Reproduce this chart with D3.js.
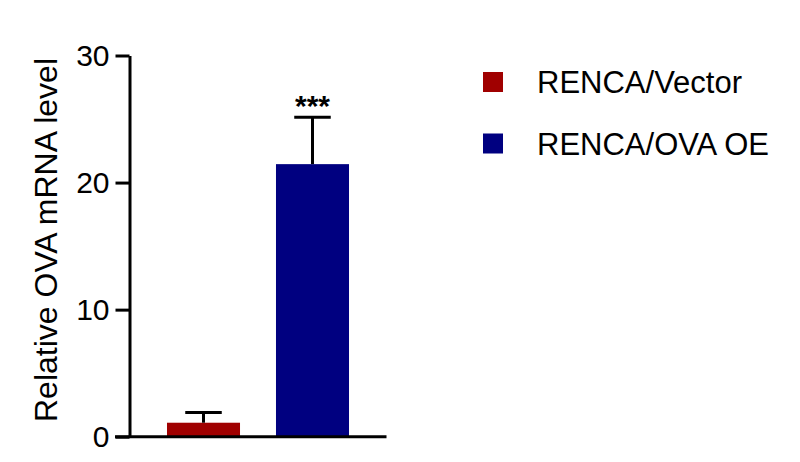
<!DOCTYPE html>
<html>
<head>
<meta charset="utf-8">
<script src="https://cdn.jsdelivr.net/npm/d3@7"></script>
<style>
  body { margin: 0; background: #fff; }
  svg { display: block; }
  text { font-family: "Liberation Sans", Arial, sans-serif; }
</style>
</head>
<body>
<svg id="chart" width="800" height="462"></svg>
<script>
// groups and values
const groups = ["RENCA/Vector", "RENCA/OVA OE"];
const means = [1.1, 21.45];
const errors = [0.8, 3.7];
const colors = ["#a00000", "#000080"];
const yTicks = [0, 10, 20, 30];
const marks = ["", "***"];

const svg = d3.select("#chart");

const y = d3.scaleLinear()
  .domain([0, 30])
  .range([436.7, 55.5]);

const x = d3.scaleBand()
  .domain(groups)
  .range([129.5, 386.5])
  .paddingInner(0.33)
  .paddingOuter(0.344);

// y axis
const yAxis = svg.append("g")
  .attr("transform", "translate(129.5,0)")
  .call(d3.axisLeft(y).tickValues(yTicks).tickSize(14).tickSizeOuter(0).tickPadding(6));
yAxis.select(".domain").attr("stroke", "#000").attr("stroke-width", 3);
yAxis.selectAll(".tick line").attr("stroke", "#000").attr("stroke-width", 3);
yAxis.selectAll(".tick text")
  .attr("font-size", 30)
  .attr("font-family", "Liberation Sans, Arial, sans-serif")
  .attr("fill", "#000");

// y axis title
svg.append("text")
  .attr("transform", "translate(57,240) rotate(-90)")
  .attr("text-anchor", "middle")
  .attr("font-size", 32)
  .attr("fill", "#000")
  .text("Relative OVA mRNA level");

// bars
svg.append("g")
  .selectAll("rect")
  .data(groups)
  .enter()
  .append("rect")
  .attr("x", d => x(d))
  .attr("width", x.bandwidth())
  .attr("y", (d, i) => y(means[i]))
  .attr("height", (d, i) => y(0) - y(means[i]))
  .attr("fill", (d, i) => colors[i]);

// error bars (upper only)
const err = svg.append("g").attr("stroke", "#000").attr("stroke-width", 3);
groups.forEach((g, i) => {
  const cx = x(g) + x.bandwidth() / 2;
  err.append("line")
    .attr("x1", cx).attr("x2", cx)
    .attr("y1", y(means[i])).attr("y2", y(means[i] + errors[i]));
  err.append("line")
    .attr("x1", cx - x.bandwidth() / 4).attr("x2", cx + x.bandwidth() / 4)
    .attr("y1", y(means[i] + errors[i])).attr("y2", y(means[i] + errors[i]));
});

// significance
svg.append("g")
  .selectAll("text")
  .data(groups)
  .enter()
  .append("text")
  .attr("x", d => x(d) + x.bandwidth() / 2)
  .attr("y", (d, i) => y(means[i] + errors[i]) - 1)
  .attr("text-anchor", "middle")
  .attr("font-size", 30)
  .attr("font-weight", "bold")
  .attr("fill", "#000")
  .text((d, i) => marks[i]);

// x axis
svg.append("line")
  .attr("x1", 115).attr("x2", 386.5)
  .attr("y1", y(0)).attr("y2", y(0))
  .attr("stroke", "#000")
  .attr("stroke-width", 3);

// legend
const legend = svg.append("g")
  .selectAll("g")
  .data(groups)
  .enter()
  .append("g")
  .attr("transform", (d, i) => `translate(483,${72 + i * 61.5})`);
legend.append("rect")
  .attr("width", 20).attr("height", 20)
  .attr("fill", (d, i) => colors[i]);
legend.append("text")
  .attr("x", 54).attr("y", 21)
  .attr("font-size", 31)
  .attr("fill", "#000")
  .text(d => d);
</script>
</body>
</html>
